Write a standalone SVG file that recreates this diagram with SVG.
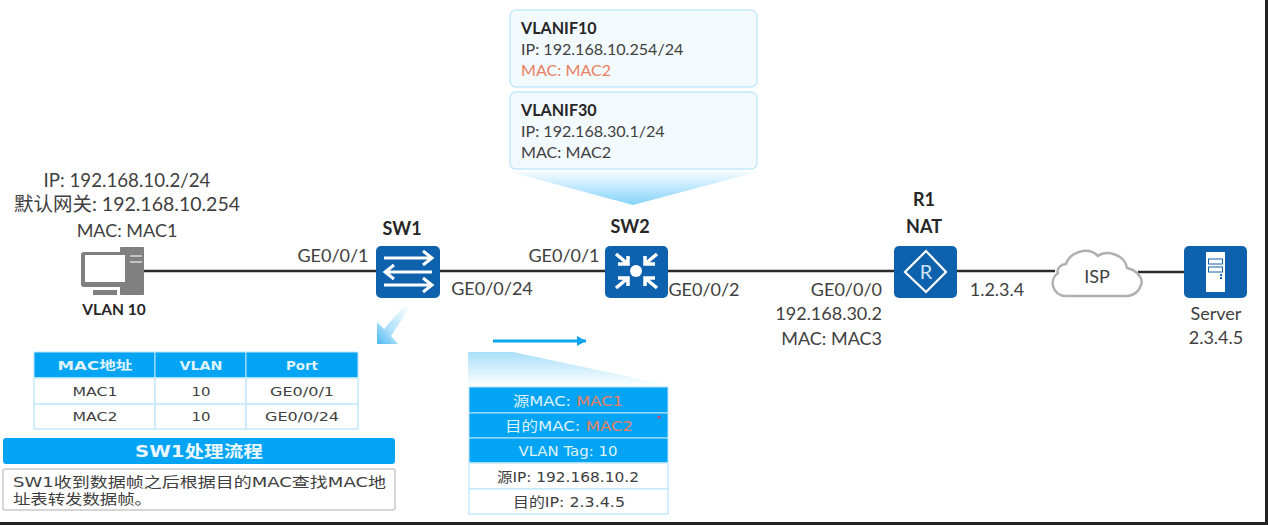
<svg xmlns="http://www.w3.org/2000/svg" width="1268" height="525" viewBox="0 0 1268 525">
<defs>
<linearGradient id="gDown" x1="0" y1="0" x2="0" y2="1"><stop offset="0" stop-color="#f4fbff"/><stop offset="1" stop-color="#84d3fb"/></linearGradient>
<linearGradient id="gUp" x1="0" y1="0" x2="0" y2="1"><stop offset="0" stop-color="#a9dff9"/><stop offset="1" stop-color="#fbfeff"/></linearGradient>
<linearGradient id="gDiag" x1="1" y1="0" x2="0" y2="1"><stop offset="0" stop-color="#fff"/><stop offset="0.65" stop-color="#a8def9"/><stop offset="1" stop-color="#4cb9f3"/></linearGradient>
<marker id="arr" markerUnits="userSpaceOnUse" markerWidth="10" markerHeight="10" refX="9" refY="5" orient="auto"><path d="M0 0L9 5L0 10Z" fill="#0ea5ef"/></marker>
</defs>
<style>
text{font-family:Lato,"Noto Sans CJK SC",sans-serif;fill:#404040;font-size:18px}
.b{font-weight:700;fill:#262626}
.m{text-anchor:middle}
.e{text-anchor:end}
.c{font-size:16.100px}
.t{font-family:"DejaVu Sans","Noto Sans CJK SC",sans-serif;font-size:12.500px;text-anchor:middle}
.w{fill:#dff3fd;font-weight:700}
.card{fill:#f3fafe;stroke:#c5e9fb;stroke-width:1.5}
.dev{fill:#0e62ad}
.ln{stroke:#2b2b2b;stroke-width:2.6;fill:none}
.wl{stroke:#fff;stroke-width:3;fill:none}
.hd{fill:#04a4f4;stroke:#bfe6fa}
.bd{fill:#fff;stroke:#c5e9fb;stroke-width:1.5}
</style>
<rect width="1268" height="525" fill="#fff"/>
<g id="connectors">
<path class="ln" d="M144 271H378"/>
<path class="ln" d="M440 271H606"/>
<path class="ln" d="M668 271H895"/>
<path class="ln" d="M957 271H1055"/>
<path class="ln" d="M1138 272H1185"/>
</g>
<g id="callouts">
<path d="M510 172H757L633 205Z" fill="url(#gDown)"/>
<path d="M468 352H513L668 385H468Z" fill="url(#gUp)"/>
<path d="M410 307L403 307L384 329L377 322L377 344L398 344L391 336Z" fill="url(#gDiag)"/>
<path d="M493 341H586" stroke="#0ea5ef" stroke-width="3" marker-end="url(#arr)"/>
</g>
<g id="vlanif10">
<rect class="card" x="510" y="10" width="247" height="77" rx="6"/>
<text class="b c" x="521" y="34">VLANIF10</text>
<text class="c" x="521" y="55">IP: 192.168.10.254/24</text>
<text class="c" x="521" y="76" style="fill:#e8805f">MAC: MAC2</text>
</g>
<g id="vlanif30">
<rect class="card" x="510" y="92" width="247" height="77" rx="6"/>
<text class="b c" x="521" y="116">VLANIF30</text>
<text class="c" x="521" y="137">IP: 192.168.30.1/24</text>
<text class="c" x="521" y="158">MAC: MAC2</text>
</g>
<g id="pc">
<text class="m" x="127" y="187" style="font-size:18.700px">IP: 192.168.10.2/24</text>
<text class="m" x="127" y="211" style="font-size:19.500px">默认网关: 192.168.10.254</text>
<text class="m" x="127" y="237">MAC: MAC1</text>
<rect x="120" y="247" width="24" height="48" fill="#808080" rx="1"/>
<rect x="81" y="252" width="47" height="35" rx="3" fill="#808080"/>
<rect x="85" y="255" width="40" height="27" fill="#fff"/>
<path d="M93 290H117V295H93Z" fill="#808080"/>
<path d="M130 256H142M130 262H142" stroke="#d8d8d8" stroke-width="1.5"/>
<text class="b m" x="114" y="315" style="font-size:15.500px">VLAN 10</text>
</g>
<g id="sw1">
<text class="b m" x="402" y="235">SW1</text>
<rect class="dev" x="376" y="246" width="64" height="52" rx="5"/>
<path class="wl" d="M384 258H430M423 251L432 258L423 265M432 272H386M394 265L385 272L394 279M384 285H430M423 278L432 285L423 292"/>
</g>
<g id="sw2">
<text class="b m" x="630" y="233">SW2</text>
<rect class="dev" x="605" y="246" width="63" height="52" rx="5"/>
<circle cx="636" cy="271" r="6" fill="#fff"/>
<path class="wl" style="stroke-width:3.500" d="M616 254L628 264M628 256V264H618M657 254L645 264M645 256V264H655M616 288L628 278M628 286V278H618M657 288L645 278M645 286V278H655"/>
</g>
<g id="r1">
<text class="b m" x="924" y="206">R1</text>
<text class="b m" x="924" y="233">NAT</text>
<rect class="dev" x="894" y="246" width="63" height="52" rx="5"/>
<path d="M926 251L946 272L926 292L905 272Z" fill="none" stroke="#fff" stroke-width="2.200"/>
<text x="926" y="279" class="m" style="fill:#cfe3f5;font-size:20px">R</text>
</g>
<g id="isp">
<path d="M1066 296C1053 296 1048 280 1058 273C1056 268 1062 264 1066 264C1070 252 1088 246 1098 256C1106 250 1125 254 1127 268C1136 270 1144 278 1141 285C1139 292 1133 296 1126 296Z" fill="#fff" stroke="#b0b0b0" stroke-width="2.500"/>
<text class="m" x="1097" y="283">ISP</text>
</g>
<g id="server">
<rect class="dev" x="1184" y="246" width="63" height="52" rx="5"/>
<rect x="1206" y="252" width="19" height="40" fill="#fff"/>
<rect x="1208.500" y="259" width="14" height="5" fill="#fff" stroke="#0e62ad"/>
<rect x="1208.500" y="267" width="14" height="5" fill="#fff" stroke="#0e62ad"/>
<path d="M1221 274V280" stroke="#0e62ad" stroke-width="2" stroke-dasharray="2 1"/>
<text class="m" x="1216" y="320">Server</text>
<text class="m" x="1216" y="344">2.3.4.5</text>
</g>
<g id="port-labels">
<text class="m" x="333" y="262">GE0/0/1</text>
<text class="m" x="492" y="295">GE0/0/24</text>
<text class="m" x="564" y="262">GE0/0/1</text>
<text class="m" x="704" y="296">GE0/0/2</text>
<text class="e" x="882" y="296">GE0/0/0</text>
<text class="e" x="882" y="320">192.168.30.2</text>
<text class="e" x="882" y="345">MAC: MAC3</text>
<text class="m" x="997" y="296">1.2.3.4</text>
</g>
<g id="mac-table">
<rect class="hd" x="34" y="352" width="121" height="26"/>
<rect class="hd" x="155" y="352" width="91" height="26"/>
<rect class="hd" x="246" y="352" width="112" height="26"/>
<rect class="bd" x="34" y="378" width="121" height="26"/><rect class="bd" x="155" y="378" width="91" height="26"/><rect class="bd" x="246" y="378" width="112" height="26"/>
<rect class="bd" x="34" y="404" width="121" height="25"/><rect class="bd" x="155" y="404" width="91" height="25"/><rect class="bd" x="246" y="404" width="112" height="25"/>
<text class="t w" x="95" y="370" textLength="75" lengthAdjust="spacingAndGlyphs">MAC地址</text><text class="t w" x="201" y="370" textLength="43" lengthAdjust="spacingAndGlyphs">VLAN</text><text class="t w" x="302" y="370" textLength="32" lengthAdjust="spacingAndGlyphs">Port</text>
<text class="t" x="95" y="396" textLength="45" lengthAdjust="spacingAndGlyphs">MAC1</text><text class="t" x="201" y="396" textLength="19" lengthAdjust="spacingAndGlyphs">10</text><text class="t" x="302" y="396" textLength="64" lengthAdjust="spacingAndGlyphs">GE0/0/1</text>
<text class="t" x="95" y="421" textLength="45" lengthAdjust="spacingAndGlyphs">MAC2</text><text class="t" x="201" y="421" textLength="19" lengthAdjust="spacingAndGlyphs">10</text><text class="t" x="302" y="421" textLength="74" lengthAdjust="spacingAndGlyphs">GE0/0/24</text>
</g>
<g id="sw1-flow">
<rect x="3" y="438" width="392" height="26" rx="3" fill="#04a4f4"/>
<text class="t w" x="199" y="457" style="font-size:16px;fill:#eaf7fe" textLength="128" lengthAdjust="spacingAndGlyphs">SW1处理流程</text>
<rect x="3" y="469" width="392" height="41" rx="2" fill="#fff" stroke="#c9c9c9" stroke-width="1.500"/>
<text class="t" x="13" y="487" style="text-anchor:start;font-size:14px" textLength="373" lengthAdjust="spacingAndGlyphs">SW1收到数据帧之后根据目的MAC查找MAC地</text>
<text class="t" x="13" y="504" style="text-anchor:start;font-size:14px" textLength="139" lengthAdjust="spacingAndGlyphs">址表转发数据帧。</text>
</g>
<g id="frame">
<rect class="hd" x="469" y="387" width="199" height="26"/>
<rect class="hd" x="469" y="413" width="199" height="25"/>
<rect class="hd" x="469" y="438" width="199" height="25"/>
<rect class="bd" x="469" y="463" width="199" height="26"/>
<rect class="bd" x="469" y="489" width="199" height="25"/>
<text class="t" x="568" y="406" style="fill:#dff3fd;font-size:13.500px" textLength="110" lengthAdjust="spacingAndGlyphs">源MAC: <tspan style="fill:#e8805f">MAC1</tspan></text>
<text class="t" x="569" y="431" style="fill:#dff3fd;font-size:13.500px" textLength="128" lengthAdjust="spacingAndGlyphs">目的MAC: <tspan style="fill:#e8805f">MAC2</tspan></text>
<text class="t" x="568" y="456" style="fill:#dff3fd;font-size:13.500px" textLength="99" lengthAdjust="spacingAndGlyphs">VLAN Tag: 10</text>
<text class="t" x="568" y="482" style="font-size:13.500px" textLength="142" lengthAdjust="spacingAndGlyphs">源IP: 192.168.10.2</text>
<text class="t" x="569" y="507" style="font-size:13.500px" textLength="112" lengthAdjust="spacingAndGlyphs">目的IP: 2.3.4.5</text>
<circle cx="659" cy="417" r="1.500" fill="#e04060"/>
</g>
<g id="border">
<rect x="0" y="522" width="1268" height="3" fill="#222"/>
<rect x="1265" y="0" width="3" height="525" fill="#222"/>
</g>
</svg>
